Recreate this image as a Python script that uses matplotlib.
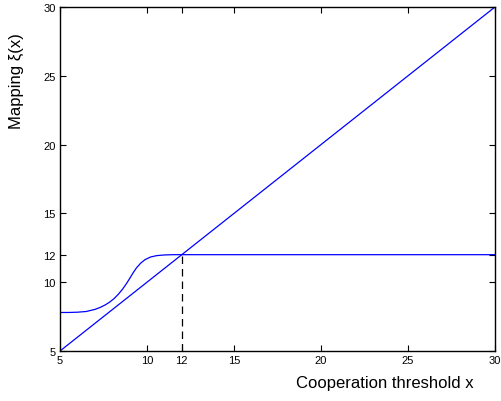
import matplotlib
matplotlib.use("Agg")
import matplotlib.pyplot as plt

plt.rcParams['font.family'] = ['Liberation Sans', 'DejaVu Sans']

# data
diag_x = [5, 30]
diag_y = [5, 30]
curve_x = [5.0, 5.5, 6.0, 6.5, 7.0, 7.3, 7.6, 7.85, 8.1, 8.35, 8.6, 8.83, 9.02, 9.2, 9.4, 9.65, 9.89, 10.2, 10.55, 11.0, 11.5, 12.0, 30.0]
curve_y = [7.8, 7.8, 7.82, 7.87, 8.02, 8.16, 8.35, 8.55, 8.8, 9.12, 9.5, 9.92, 10.3, 10.68, 11.05, 11.4, 11.64, 11.83, 11.93, 11.98, 12.0, 12.0, 12.0]
dash_x = [12, 12]
dash_y = [5, 12]
xticks = [5, 10, 12, 15, 20, 25, 30]
yticks = [5, 10, 12, 15, 20, 25, 30]

fig = plt.figure(figsize=(5.01, 4.02), dpi=100)
ax = fig.add_axes([60/501, 50/402, 435/501, 344/402])
ax.plot(diag_x, diag_y, color='#0000ff', lw=0.9)
ax.plot(curve_x, curve_y, color='#0000ff', lw=0.9)
ax.plot(dash_x, dash_y, color='black', lw=0.9, ls=(0, (6, 4)))
ax.set_xlim(5, 30)
ax.set_ylim(5, 30)
ax.set_xticks(xticks)
ax.set_yticks(yticks)
ax.tick_params(direction='in', length=4, width=0.8, labelsize=8, top=True, right=True, pad=3)
for s in ax.spines.values():
    s.set_linewidth(1.0)
fig.text(385/501, 1 - 384/402, 'Cooperation threshold x', ha='center', va='center', fontsize=12)
fig.text(16/501, 1 - 81/402, 'Mapping ξ(x)', ha='center', va='center', rotation=90, fontsize=12)
fig.savefig('out.png', dpi=100)
